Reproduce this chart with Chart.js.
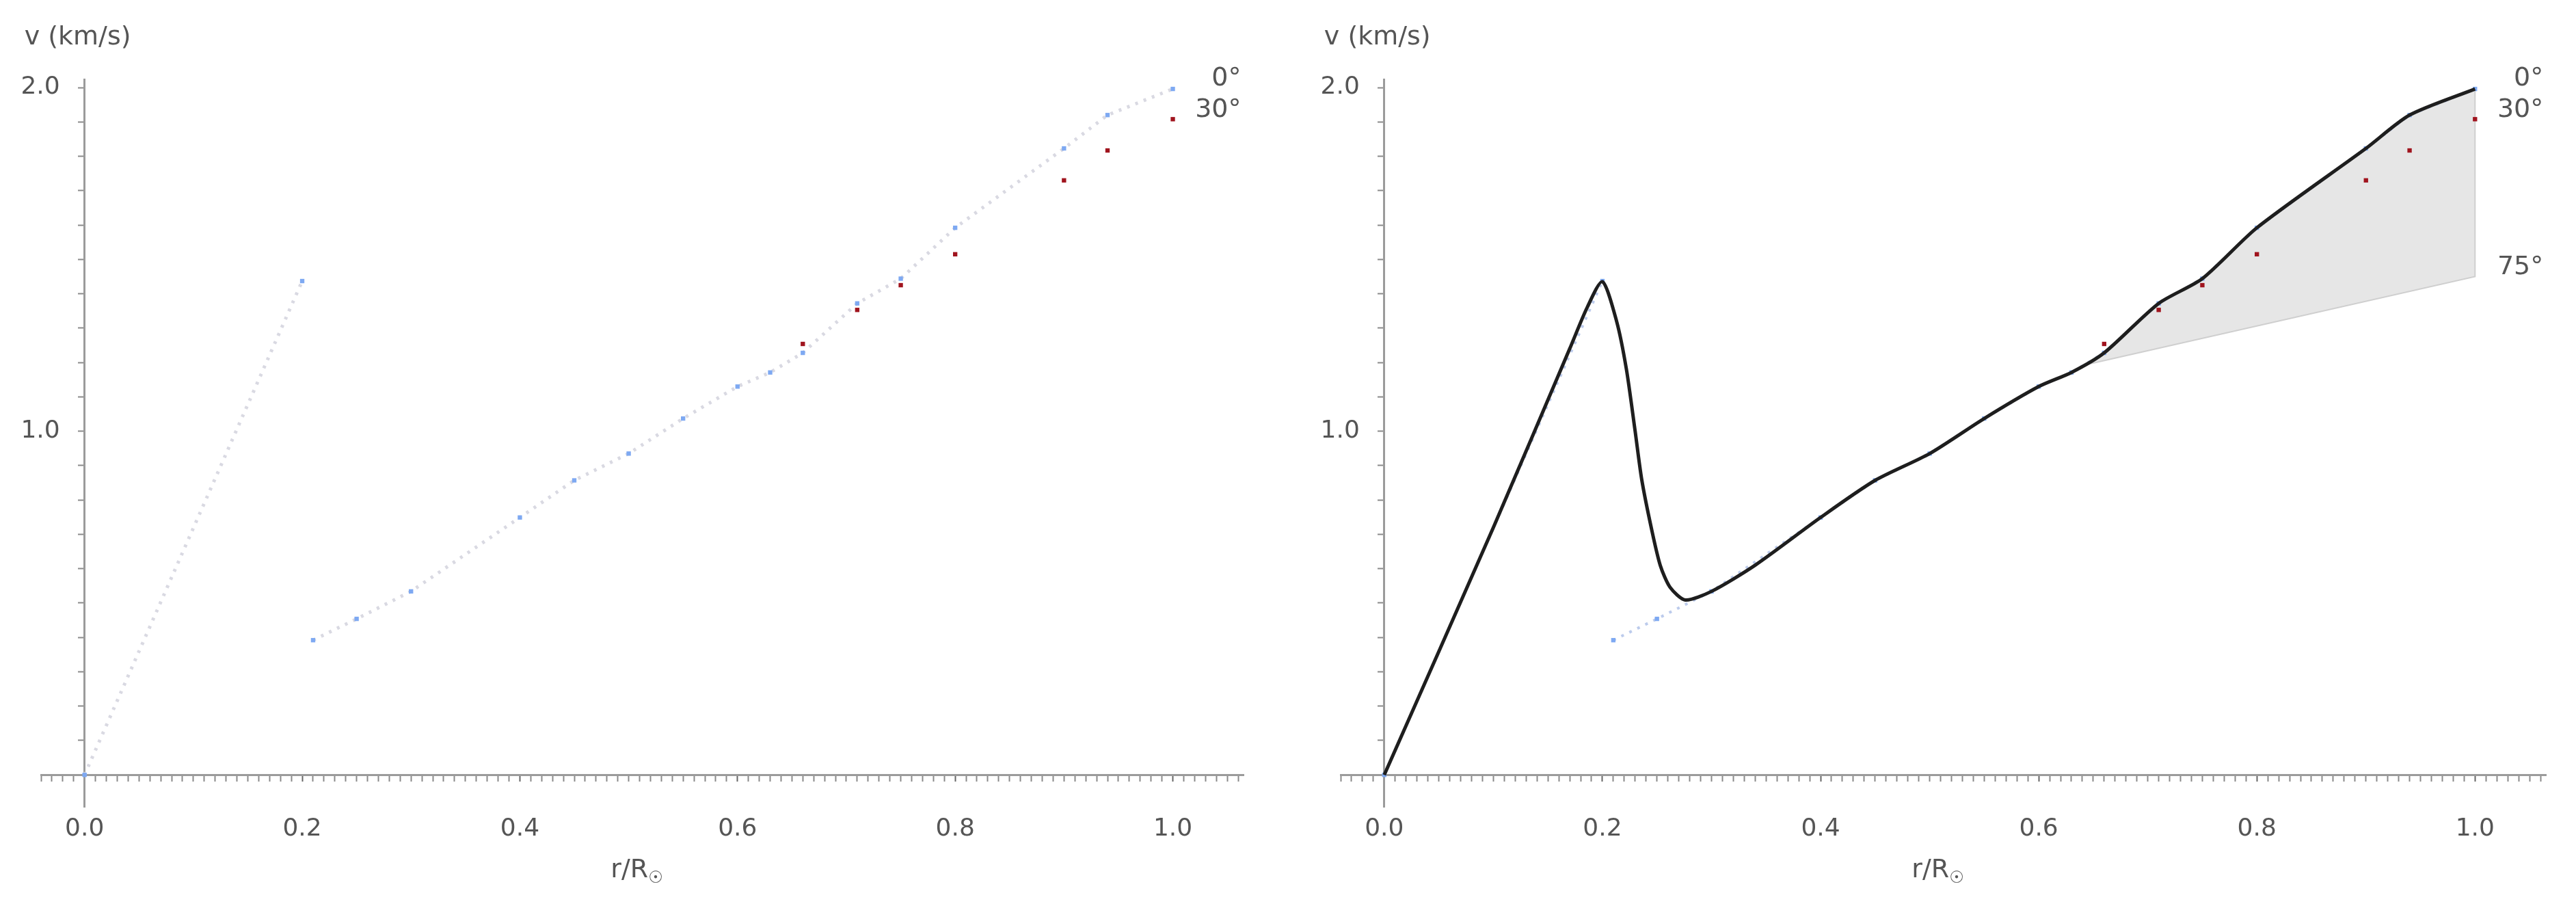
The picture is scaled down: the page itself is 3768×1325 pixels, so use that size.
<!DOCTYPE html>
<html>
<head>
<meta charset="utf-8">
<script src="https://cdn.jsdelivr.net/npm/chart.js@4.4.0/dist/chart.umd.min.js"></script>
<style>
  html, body { margin: 0; padding: 0; background: #fff; }
  #wrap { position: relative; width: 3768px; height: 1325px; }
  canvas { position: absolute; top: 0; }
</style>
</head>
<body>
<div id="wrap">
  <canvas id="left" width="1884" height="1325" style="left:0"></canvas>
  <canvas id="right" width="1884" height="1325" style="left:1884px"></canvas>
</div>
<script>
// 0 deg measurements, inner branch (r/R up to 0.2)
const innerR = [0, 0.2];
const innerV = [0, 1.437];

// 0 deg measurements, outer branch
const outerR = [0.21, 0.25, 0.30, 0.40, 0.45, 0.50, 0.55, 0.60, 0.63, 0.66, 0.71, 0.75, 0.80, 0.90, 0.94, 1.00];
const outerV = [0.392, 0.454, 0.534, 0.749, 0.857, 0.935, 1.037, 1.130, 1.171, 1.228, 1.372, 1.444, 1.592, 1.823, 1.920, 1.996];

// 30 deg measurements
const r30 = [0.66, 0.71, 0.75, 0.80, 0.90, 0.94, 1.00];
const v30 = [1.254, 1.353, 1.425, 1.515, 1.730, 1.817, 1.908];

// fitted rotation curve (right panel)
const curveR = [0, 0.1, 0.17, 0.186, 0.2, 0.213, 0.222, 0.23, 0.236, 0.245, 0.253, 0.262, 0.276, 0.3, 0.34, 0.4, 0.45, 0.5, 0.55, 0.6, 0.63, 0.66, 0.71, 0.75, 0.8, 0.9, 0.94, 1.0];
const curveV = [0, 0.72, 1.24, 1.36, 1.435, 1.32, 1.18, 1.0, 0.86, 0.716, 0.61, 0.546, 0.509, 0.534, 0.61, 0.749, 0.857, 0.935, 1.037, 1.130, 1.171, 1.228, 1.372, 1.444, 1.592, 1.823, 1.920, 1.996];

// 75 deg edge of the shaded band
const r75 = [0.645, 1.0];
const v75 = [1.195, 1.45];

const angleLabels = ['0°', '30°', '75°'];
const angleLabelV = [2.0, 1.909, 1.45];

const xTickLabels = ['0.0', '0.2', '0.4', '0.6', '0.8', '1.0'];
const yTickLabels = ['1.0', '2.0'];

const pts = (xs, ys) => xs.map((x, i) => ({ x: x, y: ys[i] }));
const near = (a, b) => Math.abs(a - b) < 1e-6;

Chart.defaults.font.family = '"DejaVu Sans", sans-serif';
Chart.defaults.font.size = 36;
Chart.defaults.color = '#555';

const BLUE = '#7ea9f2';
const RED = '#a0141e';

// free text: axis captions and angle labels
const captions = {
  id: 'captions',
  afterDraw(chart, args, opts) {
    const { ctx, chartArea, scales } = chart;
    const x = scales.x, y = scales.y;
    ctx.save();
    ctx.fillStyle = '#555';
    ctx.textBaseline = 'middle';
    ctx.font = '38px "DejaVu Sans"';
    ctx.textAlign = 'left';
    ctx.fillText('v (km/s)', x.getPixelForValue(0) - 88, chartArea.top - 61);

    // r/R with subscript sun
    const cx = (chartArea.left + chartArea.right) / 2 - 8;
    const cy = y.getPixelForValue(0) + 140;
    const main = 'r/R';
    const w1 = ctx.measureText(main).width;
    ctx.font = '24px "DejaVu Sans"';
    const w2 = ctx.measureText('☉').width;
    const x0 = cx - (w1 + w2) / 2;
    ctx.font = '38px "DejaVu Sans"';
    ctx.fillText(main, x0, cy);
    ctx.font = '24px "DejaVu Sans"';
    ctx.fillText('☉', x0 + w1, cy + 12);

    ctx.font = '38px "DejaVu Sans"';
    ctx.textAlign = 'right';
    for (let i = 0; i < opts.count; i++) {
      ctx.fillText(angleLabels[i], x.getPixelForValue(1) + 100, y.getPixelForValue(angleLabelV[i]) - 13);
    }
    ctx.restore();
  }
};

function scalesConfig() {
  return {
    x: {
      type: 'linear',
      min: -0.04,
      max: 1.065,
      position: { y: 0 },
      border: { display: true, color: '#9b9b9b', width: 3 },
      grid: {
        display: true,
        drawOnChartArea: false,
        drawTicks: true,
        tickLength: 8,
        tickWidth: 2,
        tickColor: c => (xTickLabels.some(l => near(parseFloat(l), c.tick.value)) ? '#666' : '#8a8a8a')
      },
      ticks: {
        stepSize: 0.01,
        autoSkip: false,
        maxRotation: 0,
        includeBounds: false,
        padding: 50,
        color: '#555',
        callback: v => xTickLabels.find(l => near(parseFloat(l), v)) || ''
      }
    },
    y: {
      type: 'linear',
      min: -0.093,
      max: 2.024,
      position: { x: 0 },
      border: { display: true, color: '#9b9b9b', width: 3 },
      grid: {
        display: true,
        drawOnChartArea: false,
        drawTicks: true,
        tickLength: 8,
        tickWidth: 2,
        tickColor: '#8a8a8a'
      },
      ticks: {
        stepSize: 0.1,
        autoSkip: false,
        includeBounds: false,
        color: '#555',
        callback: v => {
          const l = yTickLabels.find(t => near(parseFloat(t), v));
          return l ? l + '\u2003' : '';
        }
      }
    }
  };
}

const commonOptions = (pad, count) => ({
  responsive: false,
  animation: false,
  devicePixelRatio: 1,
  layout: { padding: pad },
  scales: scalesConfig(),
  plugins: {
    legend: { display: false },
    tooltip: { enabled: false },
    captions: { count: count }
  }
});

const pointSet = (data, color, extra) => Object.assign({
  data: data,
  showLine: false,
  pointStyle: 'rect',
  pointRadius: 4.5,
  pointBackgroundColor: color,
  pointBorderWidth: 0,
  borderWidth: 0
}, extra || {});

// left panel: measurements only
new Chart(document.getElementById('left'), {
  type: 'line',
  data: {
    datasets: [
      pointSet(pts(r30, v30), RED, { order: 0 }),
      pointSet(pts(innerR, innerV), BLUE, {
        order: 1, showLine: true, borderColor: '#d9d9e2', borderWidth: 5, borderDash: [4, 9]
      }),
      pointSet(pts(outerR, outerV), BLUE, {
        order: 1, showLine: true, borderColor: '#d9d9e2', borderWidth: 5, borderDash: [4, 9]
      })
    ]
  },
  options: commonOptions({ left: 60, right: 65, top: 116, bottom: 145 }, 2),
  plugins: [captions]
});

// right panel: curve and shaded 0-75 deg band
const bandEdge = pts(curveR, curveV).filter(p => p.x > r75[0]);
const band = bandEdge.concat(pts(r75, v75).reverse());

new Chart(document.getElementById('right'), {
  type: 'line',
  data: {
    datasets: [
      pointSet(pts(r30, v30), RED, { order: 0 }),
      {
        data: pts(curveR, curveV),
        order: 1,
        borderColor: '#1e1e1e',
        borderWidth: 5,
        pointRadius: 0,
        tension: 0.25,
        fill: false
      },
      pointSet(pts(innerR, innerV), BLUE, {
        order: 2, showLine: true, borderColor: '#bccbec', borderWidth: 4, borderDash: [4, 9]
      }),
      pointSet(pts(outerR, outerV), BLUE, {
        order: 2, showLine: true, borderColor: '#bccbec', borderWidth: 4, borderDash: [4, 9]
      }),
      {
        data: band,
        order: 5,
        borderColor: '#cfcfcf',
        borderWidth: 2,
        backgroundColor: '#e6e6e6',
        pointRadius: 0,
        tension: 0,
        fill: 'shape'
      }
    ]
  },
  options: commonOptions({ left: 77, right: 44, top: 116, bottom: 145 }, 3),
  plugins: [captions]
});
</script>
</body>
</html>
